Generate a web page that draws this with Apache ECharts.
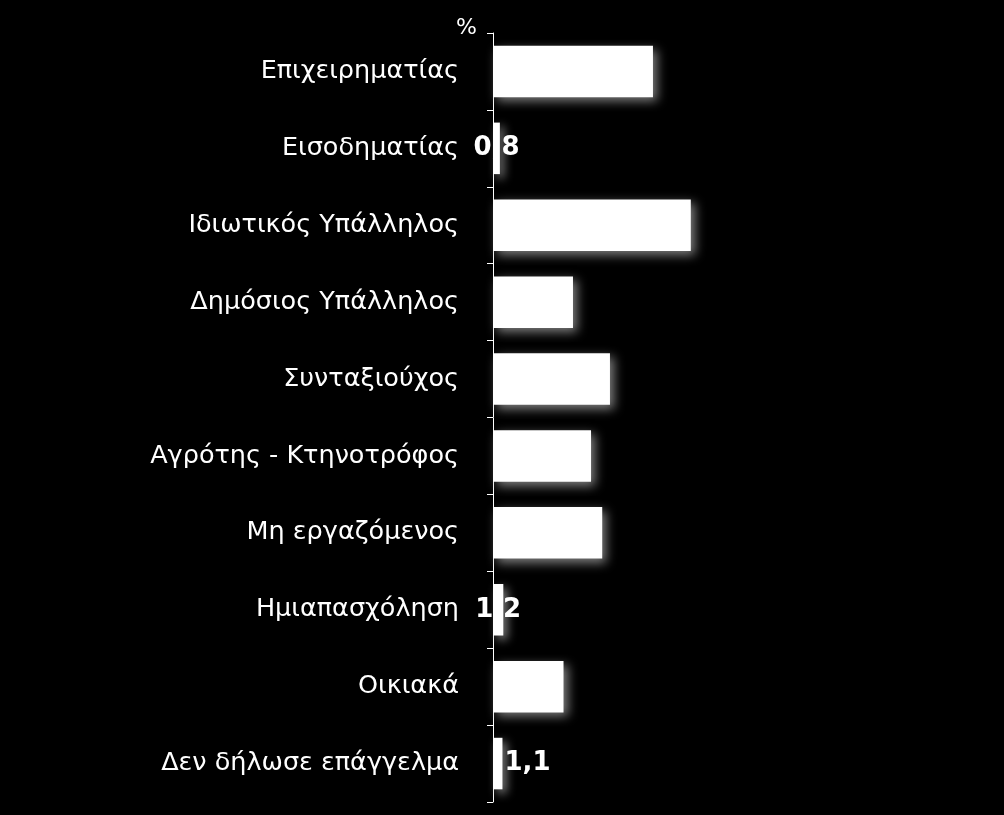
<!DOCTYPE html>
<html>
<head>
<meta charset="utf-8">
<script src="https://cdn.jsdelivr.net/npm/echarts@6/dist/echarts.min.js"></script>
<style>
html,body{margin:0;padding:0;background:#000;}
#c{width:1004px;height:815px;}
</style>
</head>
<body>
<div id="c"></div>
<script>
var categories = ["Επιχειρηματίας","Εισοδηματίας","Ιδιωτικός Υπάλληλος","Δημόσιος Υπάλληλος","Συνταξιούχος","Αγρότης - Κτηνοτρόφος","Μη εργαζόμενος","Ημιαπασχόληση","Οικιακά","Δεν δήλωσε επάγγελμα"];
var values = [18.6, 0.8, 23.0, 9.3, 13.6, 11.4, 12.7, 1.2, 8.2, 1.1];
var unitLabel = "%";

var chart = echarts.init(document.getElementById('c'));
var seriesData = values.map(function(v, i){
  var d = {value: v};
  if (i === values.length - 1) {
    d.label = {position: 'right', distance: 2};
  }
  return d;
});
chart.setOption({
  backgroundColor: '#000',
  animation: false,
  title: {
    text: unitLabel, left: 451, top: 12,
    textStyle: {color: '#fff', fontSize: 22, fontWeight: 'normal', fontFamily: 'DejaVu Sans'}
  },
  grid: {left: 493, top: 33, bottom: 13, right: 81, containLabel: false},
  xAxis: {type: 'value', min: 0, max: 50, show: false},
  yAxis: {
    type: 'category', data: categories, inverse: true,
    axisLine: {show: true, lineStyle: {color: '#fff', width: 1}},
    axisTick: {show: true, length: 6, lineStyle: {color: '#fff'}},
    axisLabel: {color: '#fff', fontSize: 25.5, fontFamily: 'DejaVu Sans', margin: 34, padding: [5, 0, 0, 0]},
    splitLine: {show: false}
  },
  series: [{
    type: 'bar',
    data: seriesData,
    barCategoryGap: '33%',
    itemStyle: {color: '#fff', shadowColor: 'rgba(140,140,140,0.9)', shadowBlur: 10, shadowOffsetX: 4, shadowOffsetY: 4},
    label: {
      show: true, position: 'inside', color: '#fff', fontSize: 26, fontWeight: 'bold', fontFamily: 'DejaVu Sans',
      formatter: function(p){ return String(p.value).replace('.', ','); }
    }
  }]
});
</script>
</body>
</html>
